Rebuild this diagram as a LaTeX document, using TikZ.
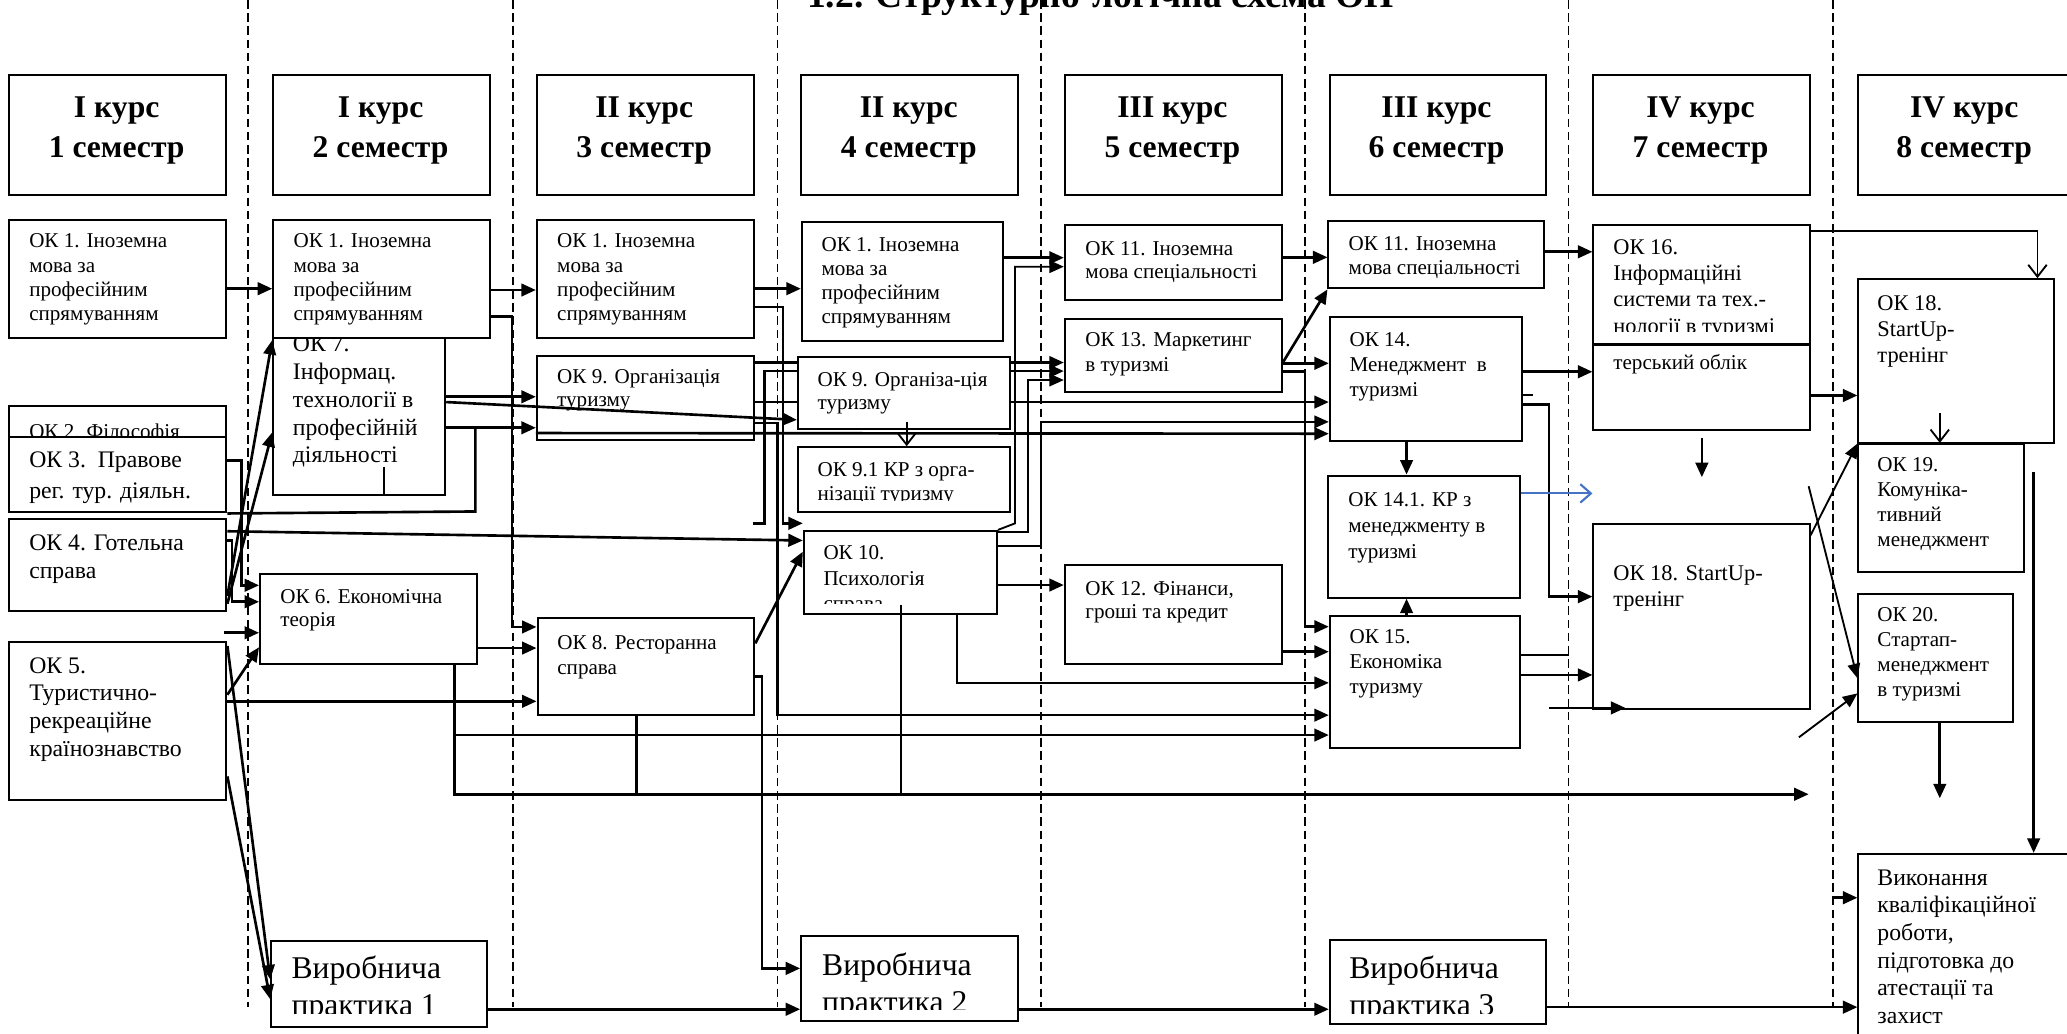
\documentclass[tikz,border=0pt]{standalone}
\usepackage{fontspec}
\setmainfont{Liberation Serif}
\usetikzlibrary{arrows.meta}
\definecolor{arrblue}{RGB}{68,114,196}
\tikzset{
  bx/.style={draw, line width=1.5pt, fill=white, inner sep=0pt, anchor=north west},
  tx/.style={inner sep=0pt, anchor=base west},
  hx/.style={inner sep=0pt, anchor=base},
  sepline/.style={line width=1.1pt, dash pattern=on 6.5pt off 3.5pt},
  arr/.style={line width=2pt, -{Triangle[length=11pt,width=9.5pt]}},
  tarr/.style={line width=1.4pt, -{Triangle[length=11pt,width=9.5pt]}},
  ln/.style={line width=2pt},
  tln/.style={line width=1.4pt},
  oarr/.style={line width=1.4pt, -{Straight Barb[length=9pt,width=14pt,line width=1.4pt]}},
  barr/.style={line width=1.6pt, draw=arrblue, -{Straight Barb[length=8pt,width=14pt,line width=1.6pt]}},
}
\newcommand{\Bx}[5]{\node[bx, minimum width=#4pt, minimum height=#5pt] (#1) at (#2,#3) {};}
\newcommand{\Tx}[6]{\node[tx, font=\fontsize{#4}{#5}\selectfont] (#1) at (#2,#3) {\parbox[t]{260pt}{\raggedright #6}};}
\newcommand{\Hx}[4]{\node[hx, font=\fontsize{24}{30}\selectfont\bfseries] (#1) at (#2,#3) {\parbox[t]{160pt}{\centering #4}};}
\begin{document}
\begin{tikzpicture}[x=1pt,y=-1pt]
\useasboundingbox (0,0) rectangle (1568,784);
% separators
\foreach \x [count=\i] in {188,389,589.6,789.7,990,1190,1390.6} {
  \draw[sepline] (\x,0) coordinate (dt\i) -- (\x,764) coordinate (db\i);
}
% title
\node[tx, font=\fontsize{28.5}{32}\selectfont\bfseries] (title) at (612,6) {1.2. Структурно-логічна схема ОП};
% headers
\Bx{hd1}{6}{56}{165}{91}      \Hx{ht1}{88.5}{89.5}{I курс\\1 семестр}
\Bx{hd2}{206.5}{56}{164.5}{91}\Hx{ht2}{288.7}{89.5}{I курс\\2 семестр}
\Bx{hd3}{406.5}{56}{164.5}{91}\Hx{ht3}{488.7}{89.5}{II курс\\3 семестр}
\Bx{hd4}{607}{56}{164.5}{91}  \Hx{ht4}{689.4}{89.5}{II курс\\4 семестр}
\Bx{hd5}{807}{56}{164.5}{91}  \Hx{ht5}{889.4}{89.5}{III курс\\5 семестр}
\Bx{hd6}{1008}{56}{164}{91}   \Hx{ht6}{1089.7}{89.5}{III курс\\6 семестр}
\Bx{hd7}{1208}{56}{164}{91}   \Hx{ht7}{1290}{89.5}{IV курс\\7 семестр}
\Bx{hd8}{1409}{56}{164}{91}   \Hx{ht8}{1490}{89.5}{IV курс\\8 семестр}
% column 1
\Bx{ok1a}{6}{166}{165}{90}
\Tx{t1a}{22}{188}{16}{18.4}{ОК 1. Іноземна\\мова за\\професійним\\спрямуванням}
\Bx{ok2}{6}{307}{165}{35}
\Tx{t2}{22}{333}{16}{18.4}{ОК 2. Філософія}
\Bx{ok3}{6}{331}{165}{57}
\Tx{t3}{22}{355}{18}{22.8}{ОК 3.\ \ Правове\\рег. тур. діяльн.}
\Bx{ok4}{6}{393}{165}{69.5}
\Tx{t4}{22}{417.3}{18}{21.3}{ОК 4. Готельна\\справа}
\Bx{ok5}{6}{486}{165}{120}
\Tx{t5}{22}{510.7}{18}{21}{ОК 5.\\Туристично-\\рекреаційне\\країнознавство}
% column 2
\Bx{ok7}{206.5}{250}{130.5}{125}
\Tx{t7}{222}{267}{18}{21}{ОК 7.\\Інформац.\\технології в\\професійній\\діяльності}
\draw[tln] (291,354) -- (ok7.south -| 291,0);
\Bx{ok1b}{206.5}{166}{164.5}{90}
\Tx{t1b}{222.5}{188}{16}{18.4}{ОК 1. Іноземна\\мова за\\професійним\\спрямуванням}
\Bx{ok6}{196.5}{435}{164.5}{68}
\Tx{t6}{212.5}{457.7}{16}{17.7}{ОК 6. Економічна\\теорія}
\Bx{vp1}{205}{713}{164}{65}
\begin{scope}
\clip (vp1.north west) rectangle (vp1.east |- 0,768.5);
\Tx{tvp1}{221}{742}{24}{28}{Виробнича\\практика 1}
\end{scope}
% column 3
\Bx{ok1c}{406.5}{166}{164.5}{90}
\Tx{t1c}{422.5}{188}{16}{18.4}{ОК 1. Іноземна\\мова за\\професійним\\спрямуванням}
\Bx{ok9a}{406.5}{269}{164.5}{64}
\Tx{t9a}{422.5}{290.6}{16}{18}{ОК 9. Організація\\туризму}
\Bx{ok8}{407}{468}{164.5}{74}
\Tx{t8}{422.6}{493}{16}{19}{ОК 8. Ресторанна\\справа}
% boxes needed by hidden connectors
\Bx{ok13}{807}{241}{165}{55.7}
\Tx{t13}{823.2}{263}{16}{19}{ОК 13. Маркетинг\\в туризмі}
\Bx{ok14}{1008}{240}{145.5}{93.8}
\Tx{t14}{1023.6}{263}{16}{19}{ОК 14.\\Менеджмент\ \ в\\туризмі}
% connectors hidden behind OK 9 (4 sem.)
\draw[arr] (ok9a.east |- 0,275) -- (ok13.west |- 0,275);
\draw[arr] (ok9a.east |- 0,305) -- (ok14.west |- 0,305);
\coordinate (s3) at (571,397);
\draw[arr] (s3) -- (580,397) -- (580,281.5) -- (ok13.west |- 0,281.5);
% column 4
\Bx{ok1d}{607.5}{167.5}{152.5}{90.5}
\Tx{t1d}{623}{191}{16}{18.1}{ОК 1. Іноземна\\мова за\\професійним\\спрямуванням}
\Bx{ok9b}{604.5}{270}{161}{54.7}
\Tx{t9b}{620}{293.3}{16}{17.7}{ОК 9. Організа-ція\\туризму}
\Bx{ok91}{604.5}{338.5}{161}{49.2}
\begin{scope}
\clip (ok91.north west) rectangle (ok91.east |- 0,379.5);
\Tx{t91}{620}{361.6}{16}{18.4}{ОК 9.1 КР з орга-\\нізації туризму}
\end{scope}
\Bx{ok10}{609}{402}{146.5}{63}
\begin{scope}
\clip (ok10.north west) rectangle (ok10.east |- 0,457.5);
\Tx{t10}{624.5}{424.8}{16}{19}{ОК 10.\\Психологія\\справа}
\end{scope}
\Bx{vp2}{607}{709}{164.5}{65}
\begin{scope}
\clip (vp2.north west) rectangle (vp2.east |- 0,766);
\Tx{tvp2}{623.5}{739.7}{24}{28}{Виробнича\\практика 2}
\end{scope}
% column 5
\Bx{ok11a}{807}{170}{165}{57}
\Tx{t11a}{823.2}{193.5}{16}{17.5}{ОК 11. Іноземна\\мова спеціальності}
\Bx{ok12}{807}{428}{165}{75}
\Tx{t12}{823.2}{451.4}{16}{17.6}{ОК 12. Фінанси,\\гроші та кредит}
% column 6
\Bx{ok11b}{1007}{167}{163.6}{51}
\Tx{t11b}{1022.9}{190.2}{16}{17.7}{ОК 11. Іноземна\\мова спеціальності}
\Bx{ok141}{1007}{360}{145}{92.6}
\Tx{t141}{1022.6}{384.4}{16}{19.5}{ОК 14.1. КР з\\менеджменту в\\туризмі}
\Bx{ok15}{1008}{466.6}{144}{99.9}
\Tx{t15}{1023.6}{488}{16}{19}{ОК 15.\\Економіка\\туризму}
\Bx{vp3}{1008}{712}{163.7}{64}
\begin{scope}
\clip (vp3.north west) rectangle (vp3.east |- 0,768.7);
\Tx{tvp3}{1023.4}{742}{24}{28}{Виробнича\\практика 3}
\end{scope}
% column 7
\Bx{ok17}{1208}{261}{164}{64.6}
\Tx{t17}{1223.7}{280.2}{16}{18.4}{терський облік}
\Bx{ok16}{1208}{170}{164}{90}
\begin{scope}
\clip (ok16.north west) rectangle (ok16.east |- 0,251.5);
\Tx{t16}{1223.7}{192.7}{17}{20}{ОК 16.\\Інформаційні\\системи та тех.-\\нології в туризмі}
\end{scope}
\Bx{ok18a}{1208}{397}{164}{140}
\Tx{t18a}{1223.7}{440}{17}{20}{ОК 18. StartUp-\\тренінг}
% column 8
\Bx{ok18b}{1409}{211}{148}{124}
\Tx{t18b}{1424}{235.2}{17}{20}{ОК 18.\\StartUp-\\тренінг}
\Bx{ok19}{1409}{336}{125.5}{97}
\Tx{t19}{1424}{357.8}{16}{19}{ОК 19.\\Комуніка-\\тивний\\менеджмент}
\Bx{ok20}{1409}{450}{117}{97}
\Tx{t20}{1424}{471.6}{16}{19}{ОК 20.\\Стартап-\\менеджмент\\в туризмі}
\Bx{fin}{1409}{647}{170}{150}
\Tx{tfin}{1424}{671.4}{18}{21}{Виконання\\кваліфікаційної\\роботи,\\підготовка до\\атестації та\\захист}
% ---------------- connectors ----------------
% 1 sem -> 2 sem
\draw[arr] (ok1a.east |- 0,219) -- (ok1b.west |- 0,219);
\draw[arr] (ok4.east |- 0,452) -- (ok7.west |- 0,258);
\draw[arr] (ok4.east |- 0,458) -- (ok7.west |- 0,328);
\draw[arr] (ok3.east |- 0,349.5) -- (183,349.5) -- (183,444) -- (ok6.west |- 0,444);
\draw[arr] (ok4.east |- 0,410) -- (176,410) -- (176,456.5) -- (ok6.west |- 0,456.5);
\coordinate (s1) at (170,480);
\draw[arr] (s1) -- (ok6.west |- 0,480);
\draw[arr] (ok5.east |- 0,527) -- (ok6.west |- 0,491);
\draw[arr] (ok4.east |- 0,403) -- (ok10.west |- 0,410);
\draw[arr] (ok5.east |- 0,490) -- (vp1.west |- 0,743);
\draw[arr] (ok5.east |- 0,589) -- (vp1.west |- 0,758);
% 2 sem -> 3 sem
\draw[ln] (ok3.south east) -- (360.6,388) -- (360.6,324.5);
\draw[arr] (ok7.east |- 0,324.5) -- (ok9a.west |- 0,324.5);
\draw[arr] (ok9a.west |- 0,328.5) -- (ok14.west |- 0,329);
\draw[arr] (ok7.east |- 0,301) -- (ok9a.west |- 0,301);
\draw[arr] (ok7.east |- 0,305) -- (ok9b.west |- 0,318.5);
\draw[arr] (ok1b.east |- 0,220) -- (ok1c.west |- 0,220);
\draw[arr] (ok1b.east |- 0,240) -- (388.5,240) -- (388.5,475.6) -- (ok8.west |- 0,475.6);
\draw[arr] (ok6.east |- 0,491.6) -- (ok8.west |- 0,491.6);
\draw[arr] (ok5.east |- 0,532) -- (ok8.west |- 0,532);
\draw[arr] (ok6.south -| 344.8,0) -- (344.8,557.6) -- (ok15.west |- 0,557.6);
\coordinate (e1) at (1372,602.5);
\draw[arr] (344.8,557.6) -- (344.8,602.5) -- (e1);
\draw[ln] (ok8.south -| 483,0) -- (483,602.5);
\draw[arr] (vp1.east |- 0,765.6) -- (vp2.west |- 0,765.6);
% 3 sem -> 4 sem
\draw[arr] (ok1c.east |- 0,219) -- (ok1d.west |- 0,219);
\draw[arr] (ok1c.east |- 0,233) -- (594,233) -- (594,397) -- (ok10.west |- 0,397);
\draw[arr] (ok9a.east |- 0,321) -- (589.6,321) -- (589.6,542.5) -- (ok15.west |- 0,542.5);
\draw[arr] (ok8.east |- 0,488) -- (ok10.west |- 0,418.5);
\draw[arr] (ok8.east |- 0,513) -- (578,513) -- (578,734.6) -- (vp2.west |- 0,734.6);
\coordinate (s10) at (687.8,320);
\draw[oarr] (s10) -- (ok91.north -| 687.8,0);
% 4 sem -> 5/6 sem
\draw[arr] (ok1d.east |- 0,195.5) -- (ok11a.west |- 0,195.5);
\draw[tarr] (ok10.north east) -- (770,397) -- (770,202.3) -- (ok11a.west |- 0,202.3);
\draw[tarr] (ok10.east |- 0,403.4) -- (780,403.4) -- (780,288.3) -- (ok13.west |- 0,288.3);
\draw[tarr] (ok10.east |- 0,414) -- (789.5,414) -- (789.5,320) -- (ok14.west |- 0,320);
\draw[arr] (ok10.east |- 0,443.8) -- (ok12.west |- 0,443.8);
\draw[tln] (683.5,459) -- (683.5,602.5);
\draw[tarr] (ok10.south -| 725.8,0) -- (725.8,518) -- (ok15.west |- 0,518);
\draw[arr] (vp2.east |- 0,765.6) -- (vp3.west |- 0,765.6);
% 5 sem -> 6 sem
\draw[arr] (ok11a.east |- 0,195.2) -- (ok11b.west |- 0,195.2);
\draw[arr] (ok13.east |- 0,274.4) -- (ok11b.south west);
\draw[arr] (ok13.east |- 0,275.6) -- (ok14.west |- 0,275.6);
\draw[arr] (ok13.east |- 0,282) -- (990,282) -- (990,475.4) -- (ok15.west |- 0,475.4);
\draw[arr] (ok12.east |- 0,494.4) -- (ok15.west |- 0,494.4);
\draw[arr] (ok14.south -| 1067,0) -- (ok141.north -| 1067,0);
\draw[arr] (ok15.north -| 1067,0) -- (ok141.south -| 1067,0);
% 6 sem -> 7 sem
\draw[arr] (ok11b.east |- 0,191) -- (ok16.west |- 0,191);
\draw[arr] (ok14.east |- 0,282) -- (ok17.west |- 0,282);
\coordinate (t1) at (1163,299.7);
\draw[ln] (ok14.east |- 0,299.7) -- (t1);
\draw[arr] (ok14.east |- 0,307) -- (1175,307) -- (1175,452.6) -- (ok18a.west |- 0,452.6);
\draw[barr] (ok141.east |- 0,374.3) -- (ok18a.west |- 0,374.3);
\coordinate (t2) at (1190,497);
\draw[ln] (ok15.east |- 0,497) -- (t2);
\draw[arr] (ok15.east |- 0,512) -- (ok18a.west |- 0,512);
\coordinate (s4) at (1175,537);
\coordinate (e4) at (1233,537);
\draw[arr] (s4) -- (e4);
\draw[arr] (vp3.east |- 0,764) -- (fin.west |- 0,764);
% 7 sem -> 8 sem
\coordinate (e5) at (1291,362);
\draw[arr] ([yshift=-5pt]ok17.south -| 1291,0) -- (e5);
\draw[oarr] (ok16.north east |- 0,175) -- (1545.6,175) -- (ok18b.north -| 1545.6,0);
\draw[arr] (ok17.east |- 0,300) -- (ok18b.west |- 0,300);
\coordinate (s5) at (1471.5,313.6);
\draw[oarr] (s5) -- (ok19.north -| 1471.5,0);
\draw[tarr] (ok18a.east |- 0,406) -- (ok18b.south west);
\coordinate (s6) at (1372,368.8);
\draw[tarr] (s6) -- (ok20.west |- 0,514.5);
\coordinate (s7) at (1364.6,559.3);
\draw[tarr] (s7) -- (ok20.west |- 0,526);
\coordinate (e8) at (1471.5,605.6);
\draw[arr] (ok20.south -| 1471.5,0) -- (e8);
\coordinate (s9) at (1542.7,358);
\draw[arr] (s9) -- (fin.north -| 1542.7,0);
\coordinate (s2) at (1391,681);
\draw[arr] (s2) -- (fin.west |- 0,681);
\end{tikzpicture}
\end{document}
